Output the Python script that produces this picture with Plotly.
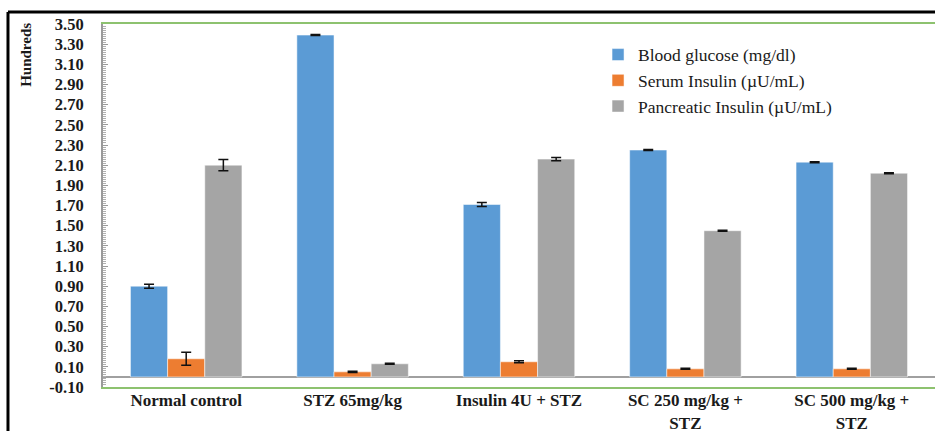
import plotly.graph_objects as go

# Treatment groups and measurements (values in hundreds)
groups = ["Normal control", "STZ 65mg/kg", "Insulin 4U + STZ",
          "SC 250 mg/kg +<br>STZ", "SC 500 mg/kg +<br>STZ"]

blood_glucose = [0.90, 3.39, 1.71, 2.25, 2.13]
blood_glucose_err = [0.02, 0.005, 0.02, 0.005, 0.005]

serum_insulin = [0.18, 0.05, 0.15, 0.08, 0.08]
serum_insulin_err = [0.065, 0.005, 0.01, 0.005, 0.005]

pancreatic_insulin = [2.10, 0.13, 2.16, 1.45, 2.02]
pancreatic_insulin_err = [0.055, 0.005, 0.015, 0.005, 0.005]

y_ticks = [-0.10, 0.10, 0.30, 0.50, 0.70, 0.90, 1.10, 1.30, 1.50, 1.70,
           1.90, 2.10, 2.30, 2.50, 2.70, 2.90, 3.10, 3.30, 3.50]

series = [
    ("Blood glucose (mg/dl)", blood_glucose, blood_glucose_err, "#5B9BD5"),
    ("Serum Insulin (\u00b5U/mL)", serum_insulin, serum_insulin_err, "#ED7D31"),
    ("Pancreatic Insulin (\u00b5U/mL)", pancreatic_insulin, pancreatic_insulin_err, "#A5A5A5"),
]

SERIF = "Liberation Serif"

fig = go.Figure()
for name, vals, errs, color in series:
    fig.add_trace(go.Bar(
        x=groups, y=vals, name=name,
        marker=dict(color=color, line=dict(color="rgba(255,255,255,0.5)", width=1)),
        error_y=dict(type="data", array=errs, visible=True,
                     color="#111111", thickness=1.5, width=5),
    ))

fig.update_layout(
    width=935, height=431,
    margin=dict(l=103, r=0, t=24, b=44),
    paper_bgcolor="white", plot_bgcolor="white",
    barmode="group", bargap=0.33, bargroupgap=0,
    showlegend=True,
    legend=dict(x=0.595, y=0.965, xanchor="left", yanchor="top",
                bgcolor="rgba(0,0,0,0)",
                font=dict(family=SERIF, size=17.5, color="#1a1a1a"),
                itemwidth=30, tracegroupgap=0),
    font=dict(family=SERIF, color="#1a1a1a"),
)

fig.update_xaxes(
    type="category", range=[-0.5, 4.5], automargin=False,
    showline=True, linecolor="#8DC26F", linewidth=2, mirror=True,
    showgrid=False, ticks="", ticklabelstandoff=-3,
    tickfont=dict(family=SERIF, size=17, color="#1a1a1a", weight="bold"),
)

fig.update_yaxes(
    range=[-0.10, 3.50], automargin=False,
    tickmode="array", tickvals=y_ticks,
    ticktext=[f"{v:.2f}" for v in y_ticks],
    tickfont=dict(family=SERIF, size=16.5, color="#1a1a1a", weight="bold"),
    ticks="inside", ticklen=5, tickcolor="#9a9a9a", tickwidth=1,
    ticklabelstandoff=14,
    minor=dict(ticks="inside", ticklen=3, dtick=0.02, tick0=-0.10,
               tickcolor="#b0b0b0", tickwidth=1, showgrid=False),
    showline=True, linecolor="#9a9a9a", linewidth=2,
    showgrid=False,
    zeroline=True, zerolinecolor="#a0a0a0", zerolinewidth=2,
)

# Axis unit label
fig.add_annotation(
    text="Hundreds", textangle=-90,
    xref="paper", yref="paper", x=-0.092, y=1.01,
    xanchor="center", yanchor="top", showarrow=False,
    font=dict(family=SERIF, size=15, color="#1a1a1a", weight="bold"),
)

# Outer frame lines (top and left)
fig.add_shape(type="line", xref="paper", yref="paper",
              x0=-0.1142, x1=1.0, y0=1.0331, y1=1.0331,
              line=dict(color="black", width=3))
fig.add_shape(type="line", xref="paper", yref="paper",
              x0=-0.1142, x1=-0.1142, y0=1.0331, y1=-0.13,
              line=dict(color="black", width=3))

fig.write_html("out.html")
